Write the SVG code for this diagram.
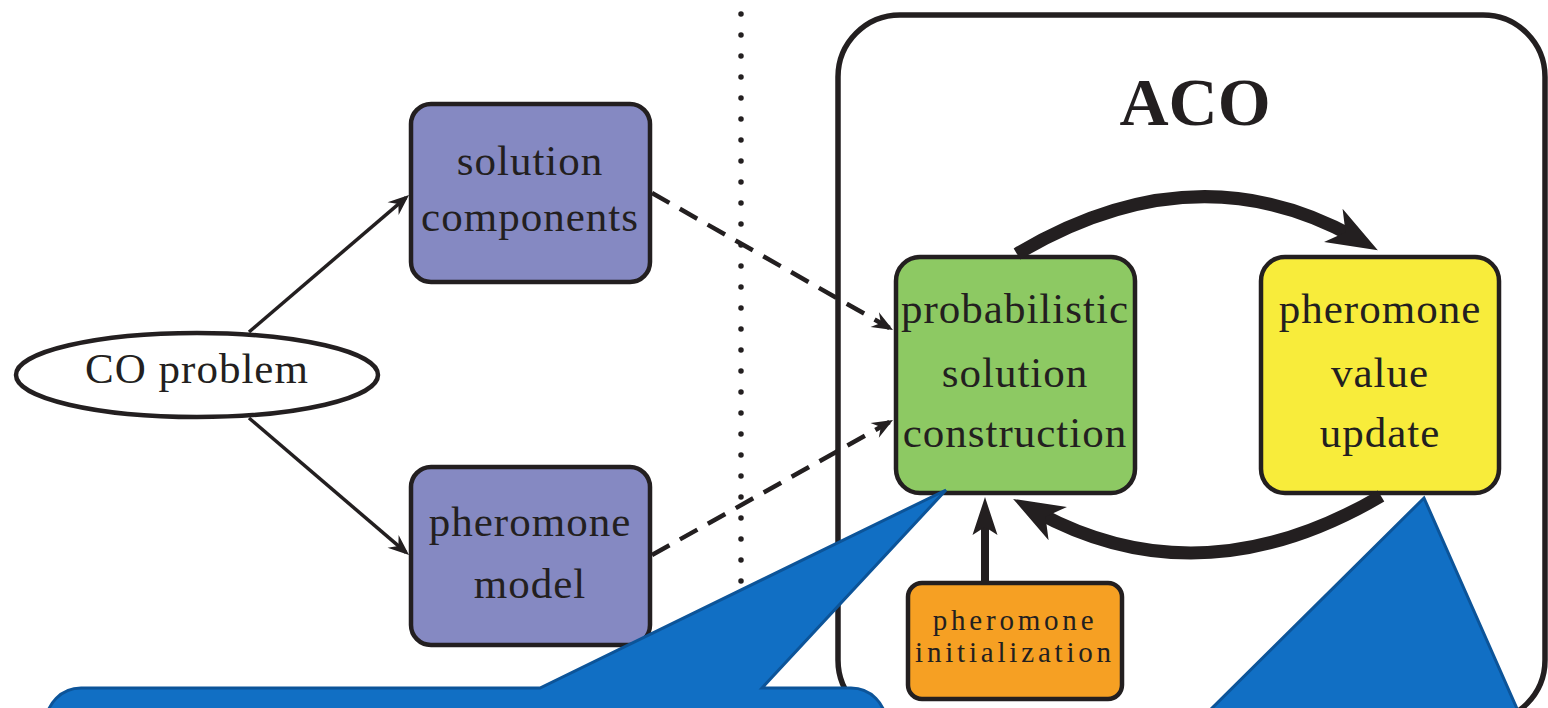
<svg xmlns="http://www.w3.org/2000/svg" width="1548" height="708" viewBox="0 0 1548 708">
<style>
.t{font-family:"Liberation Serif","Times New Roman",serif;fill:#231f20;text-anchor:middle}
.big{font-size:43px;letter-spacing:1px}
.sm{font-size:29px;letter-spacing:3.8px}
.box{stroke:#231f20;stroke-width:4.5}
.thin{fill:none;stroke:#231f20;stroke-width:3.5}
.dash{fill:none;stroke:#231f20;stroke-width:4.5;stroke-dasharray:20 12}
.thick{fill:none;stroke:#231f20;stroke-width:13}
.call{fill:#116fc4;stroke:#0c5499;stroke-width:3;stroke-linejoin:miter}
</style>
<defs>
<marker id="ah" markerUnits="userSpaceOnUse" viewBox="-30 -30 60 60" markerWidth="60" markerHeight="60" refX="0" refY="0" orient="auto">
<path d="M4,0 L-17,-8.5 L-10,0 L-17,8.5 Z" fill="#231f20"/>
</marker>
<marker id="ahb" markerUnits="userSpaceOnUse" viewBox="-40 -40 80 80" markerWidth="80" markerHeight="80" refX="0" refY="0" orient="auto">
<path d="M25,0 L-26,-19 L-12,0 L-26,19 Z" fill="#231f20"/>
</marker>
<marker id="ahm" markerUnits="userSpaceOnUse" viewBox="-40 -40 80 80" markerWidth="80" markerHeight="80" refX="0" refY="0" orient="auto">
<path d="M25,0 L-13,-12.5 L-5,0 L-13,12.5 Z" fill="#231f20"/>
</marker>
</defs>
<rect width="1548" height="708" fill="#ffffff"/>

<line x1="741" y1="14" x2="741" y2="700" stroke="#231f20" stroke-width="5.5" stroke-linecap="round" stroke-dasharray="0 21"/>

<g id="aco">
<rect x="838" y="15" width="707" height="707" rx="62" ry="62" fill="none" stroke="#231f20" stroke-width="5.5"/>
<text class="t" x="1195" y="125" font-size="68" font-weight="bold">ACO</text>
</g>

<g id="co-problem">
<ellipse cx="197" cy="375" rx="181" ry="42" fill="#ffffff" stroke="#231f20" stroke-width="4.5"/>
<text class="t big" x="197" y="383">CO problem</text>
</g>

<g id="solution-components">
<rect class="box" x="411" y="104" width="239" height="178" rx="20" fill="#8589c2"/>
<text class="t big" x="530" y="175">solution</text>
<text class="t big" x="530" y="231">components</text>
</g>

<g id="pheromone-model">
<rect class="box" x="411" y="467" width="239" height="178" rx="20" fill="#8589c2"/>
<text class="t big" x="530" y="536">pheromone</text>
<text class="t big" x="530" y="598">model</text>
</g>

<g id="probabilistic-solution-construction">
<rect class="box" x="896" y="257" width="239" height="236" rx="24" fill="#8dc963"/>
<text class="t big" x="1015" y="323">probabilistic</text>
<text class="t big" x="1015" y="387">solution</text>
<text class="t big" x="1015" y="447">construction</text>
</g>

<g id="pheromone-value-update">
<rect class="box" x="1261" y="257" width="238" height="236" rx="24" fill="#f8ec3b"/>
<text class="t big" x="1380" y="323">pheromone</text>
<text class="t big" x="1380" y="387">value</text>
<text class="t big" x="1380" y="447">update</text>
</g>

<g id="pheromone-initialization">
<rect class="box" x="908" y="583" width="214" height="116" rx="14" fill="#f6a023"/>
<text class="t sm" x="1015" y="630">pheromone</text>
<text class="t sm" x="1015" y="662">initialization</text>
</g>

<g id="connectors">
<line class="thin" x1="249" y1="332" x2="406" y2="197.6" marker-end="url(#ah)"/>
<line class="thin" x1="249" y1="418" x2="406" y2="552.4" marker-end="url(#ah)"/>
<line class="dash" x1="652" y1="193" x2="889.5" y2="328" marker-end="url(#ah)"/>
<line class="dash" x1="652" y1="555" x2="889.5" y2="422" marker-end="url(#ah)"/>
<path class="thick" d="M1017,254 Q1195,148 1356,238" marker-end="url(#ahb)"/>
<path class="thick" d="M1381,496 Q1200,602 1035,511" marker-end="url(#ahb)"/>
<line x1="985" y1="583" x2="985" y2="522" stroke="#231f20" stroke-width="8" marker-end="url(#ahm)"/>
</g>

<g id="callout-left">
<path class="call" d="M81,688 L540,688 L946,490 L762,688 L851,688 A35,35 0 0 1 886,723 L886,760 L46,760 L46,723 A35,35 0 0 1 81,688 Z"/>
</g>
<g id="callout-right">
<path class="call" d="M1424,498 L1522,720 L1200,720 Z"/>
</g>
</svg>
